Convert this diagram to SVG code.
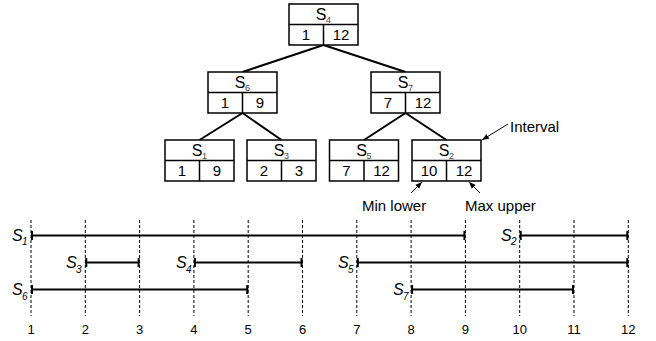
<svg xmlns="http://www.w3.org/2000/svg" width="656" height="341" viewBox="0 0 656 341">
<style>
.box{fill:#fff;stroke:#000;stroke-width:1.5}
.div{stroke:#000;stroke-width:1.5}
.t{font-family:"Liberation Sans",Arial,sans-serif;fill:#000}
.ttl{font-size:16px;text-anchor:middle}
.sub{font-size:9px;fill:#444}
.num{font-size:15px;text-anchor:middle}
.edge{stroke:#000;stroke-width:2;fill:none}
.grid{stroke:#000;stroke-width:1;stroke-dasharray:3,2}
.iv{stroke:#000;stroke-width:2}
.lab{font-size:16px;font-style:italic}
.lsub{font-size:10px;font-style:italic}
.ax{font-size:13px;text-anchor:middle}
.note{font-size:15px}
.arr{stroke:#000;stroke-width:1;fill:none;marker-end:url(#ah)}
</style>
<defs>
<marker id="ah" viewBox="0 0 10 10" refX="10" refY="5" markerWidth="7" markerHeight="7" orient="auto" markerUnits="userSpaceOnUse"><path d="M0,1 L10,5 L0,9 z" fill="#000"/></marker>
</defs>
<g id="connectors">
<line class="edge" x1="323.5" y1="45" x2="242.5" y2="72"/>
<line class="edge" x1="323.5" y1="45" x2="405.5" y2="72"/>
<line class="edge" x1="242.5" y1="113" x2="199.5" y2="140"/>
<line class="edge" x1="242.5" y1="113" x2="281.5" y2="140"/>
<line class="edge" x1="405.5" y1="113" x2="364" y2="140"/>
<line class="edge" x1="405.5" y1="113" x2="446.5" y2="140"/>
</g>
<g id="S4">
<rect class="box" x="289" y="4" width="69" height="41"/>
<line class="div" x1="289" y1="24.5" x2="358" y2="24.5"/>
<line class="div" x1="323.5" y1="24.5" x2="323.5" y2="45"/>
<text class="t ttl" x="321" y="20">S</text><text class="t sub" x="326" y="23">4</text>
<text class="t num" x="306" y="40">1</text><text class="t num" x="341" y="40">12</text>
</g>
<g id="S6">
<rect class="box" x="208" y="72" width="69" height="41"/>
<line class="div" x1="208" y1="92.5" x2="277" y2="92.5"/>
<line class="div" x1="242.5" y1="92.5" x2="242.5" y2="113"/>
<text class="t ttl" x="240" y="88">S</text><text class="t sub" x="245" y="91">6</text>
<text class="t num" x="225" y="108">1</text><text class="t num" x="260" y="108">9</text>
</g>
<g id="S7">
<rect class="box" x="371" y="72" width="69" height="41"/>
<line class="div" x1="371" y1="92.5" x2="440" y2="92.5"/>
<line class="div" x1="405.5" y1="92.5" x2="405.5" y2="113"/>
<text class="t ttl" x="403" y="88">S</text><text class="t sub" x="408" y="91">7</text>
<text class="t num" x="388" y="108">7</text><text class="t num" x="423" y="108">12</text>
</g>
<g id="S1">
<rect class="box" x="165" y="140" width="69" height="41"/>
<line class="div" x1="165" y1="160.5" x2="234" y2="160.5"/>
<line class="div" x1="199.5" y1="160.5" x2="199.5" y2="181"/>
<text class="t ttl" x="197" y="156">S</text><text class="t sub" x="202" y="159">1</text>
<text class="t num" x="182" y="176">1</text><text class="t num" x="217" y="176">9</text>
</g>
<g id="S3">
<rect class="box" x="247" y="140" width="69" height="41"/>
<line class="div" x1="247" y1="160.5" x2="316" y2="160.5"/>
<line class="div" x1="281.5" y1="160.5" x2="281.5" y2="181"/>
<text class="t ttl" x="279" y="156">S</text><text class="t sub" x="284" y="159">3</text>
<text class="t num" x="264" y="176">2</text><text class="t num" x="299" y="176">3</text>
</g>
<g id="S5">
<rect class="box" x="329.5" y="140" width="69" height="41"/>
<line class="div" x1="329.5" y1="160.5" x2="398.5" y2="160.5"/>
<line class="div" x1="364" y1="160.5" x2="364" y2="181"/>
<text class="t ttl" x="361.5" y="156">S</text><text class="t sub" x="366.5" y="159">5</text>
<text class="t num" x="346.5" y="176">7</text><text class="t num" x="381.5" y="176">12</text>
</g>
<g id="S2">
<rect class="box" x="412" y="140" width="69" height="41"/>
<line class="div" x1="412" y1="160.5" x2="481" y2="160.5"/>
<line class="div" x1="446.5" y1="160.5" x2="446.5" y2="181"/>
<text class="t ttl" x="444" y="156">S</text><text class="t sub" x="449" y="159">2</text>
<text class="t num" x="429" y="176">10</text><text class="t num" x="464" y="176">12</text>
</g>
<g id="annotations">
<line class="arr" x1="508" y1="124" x2="482" y2="140"/>
<text class="t note" x="510" y="132">Interval</text>
<line class="arr" x1="411" y1="193" x2="422" y2="182"/>
<text class="t note" x="362" y="211">Min lower</text>
<line class="arr" x1="480" y1="193" x2="469" y2="182"/>
<text class="t note" x="465" y="211">Max upper</text>
</g>
<g id="timeline">
<g>
<line class="grid" x1="31" y1="220" x2="31" y2="316"/>
<line class="grid" x1="85.3" y1="220" x2="85.3" y2="316"/>
<line class="grid" x1="139.6" y1="220" x2="139.6" y2="316"/>
<line class="grid" x1="193.9" y1="220" x2="193.9" y2="316"/>
<line class="grid" x1="248.2" y1="220" x2="248.2" y2="316"/>
<line class="grid" x1="302.5" y1="220" x2="302.5" y2="316"/>
<line class="grid" x1="356.8" y1="220" x2="356.8" y2="316"/>
<line class="grid" x1="411.1" y1="220" x2="411.1" y2="316"/>
<line class="grid" x1="465.4" y1="220" x2="465.4" y2="316"/>
<line class="grid" x1="519.7" y1="220" x2="519.7" y2="316"/>
<line class="grid" x1="574" y1="220" x2="574" y2="316"/>
<line class="grid" x1="628.3" y1="220" x2="628.3" y2="316"/>
</g>
<g>
<text class="t ax" x="31" y="334">1</text>
<text class="t ax" x="85.3" y="334">2</text>
<text class="t ax" x="139.6" y="334">3</text>
<text class="t ax" x="193.9" y="334">4</text>
<text class="t ax" x="248.2" y="334">5</text>
<text class="t ax" x="302.5" y="334">6</text>
<text class="t ax" x="356.8" y="334">7</text>
<text class="t ax" x="411.1" y="334">8</text>
<text class="t ax" x="465.4" y="334">9</text>
<text class="t ax" x="519.7" y="334">10</text>
<text class="t ax" x="574" y="334">11</text>
<text class="t ax" x="628.3" y="334">12</text>
</g>
<g id="iv-S1"><line class="iv" x1="31" y1="235.5" x2="465.4" y2="235.5"/><line class="iv" x1="32" y1="231" x2="32" y2="240"/><line class="iv" x1="464.4" y1="231" x2="464.4" y2="240"/>
<text class="t lab" x="12" y="241">S</text><text class="t lsub" x="22" y="245">1</text></g>
<g id="iv-S2"><line class="iv" x1="519.7" y1="235.5" x2="628.3" y2="235.5"/><line class="iv" x1="520.7" y1="231" x2="520.7" y2="240"/><line class="iv" x1="627.3" y1="231" x2="627.3" y2="240"/>
<text class="t lab" x="501" y="241">S</text><text class="t lsub" x="511" y="245">2</text></g>
<g id="iv-S3"><line class="iv" x1="85.3" y1="262.5" x2="139.6" y2="262.5"/><line class="iv" x1="86.3" y1="258" x2="86.3" y2="267"/><line class="iv" x1="138.6" y1="258" x2="138.6" y2="267"/>
<text class="t lab" x="66" y="268">S</text><text class="t lsub" x="76" y="273">3</text></g>
<g id="iv-S4"><line class="iv" x1="193.9" y1="262.5" x2="302.5" y2="262.5"/><line class="iv" x1="194.9" y1="258" x2="194.9" y2="267"/><line class="iv" x1="301.5" y1="258" x2="301.5" y2="267"/>
<text class="t lab" x="176" y="268">S</text><text class="t lsub" x="186" y="273">4</text></g>
<g id="iv-S5"><line class="iv" x1="356.8" y1="262.5" x2="628.3" y2="262.5"/><line class="iv" x1="357.8" y1="258" x2="357.8" y2="267"/><line class="iv" x1="627.3" y1="258" x2="627.3" y2="267"/>
<text class="t lab" x="338" y="268">S</text><text class="t lsub" x="348" y="273">5</text></g>
<g id="iv-S6"><line class="iv" x1="31" y1="289.5" x2="248.2" y2="289.5"/><line class="iv" x1="32" y1="285" x2="32" y2="294"/><line class="iv" x1="247.2" y1="285" x2="247.2" y2="294"/>
<text class="t lab" x="12" y="295">S</text><text class="t lsub" x="22" y="300">6</text></g>
<g id="iv-S7"><line class="iv" x1="411.1" y1="289.5" x2="574" y2="289.5"/><line class="iv" x1="412.1" y1="285" x2="412.1" y2="294"/><line class="iv" x1="573" y1="285" x2="573" y2="294"/>
<text class="t lab" x="393" y="295">S</text><text class="t lsub" x="403" y="300">7</text></g>
</g>
</svg>
